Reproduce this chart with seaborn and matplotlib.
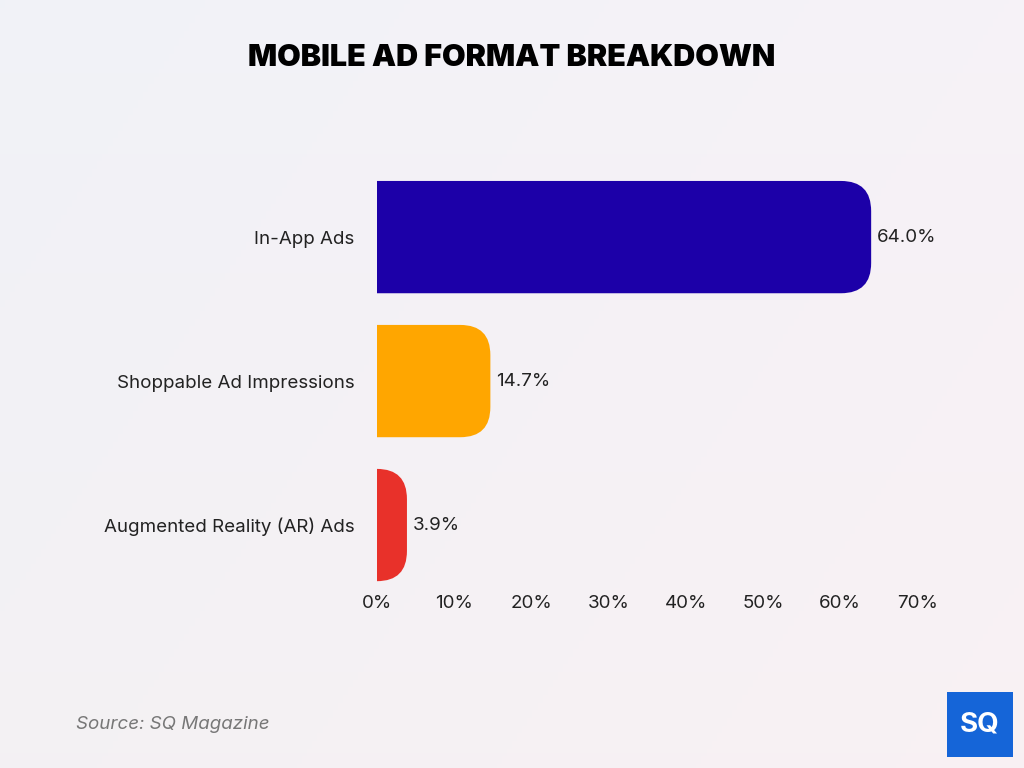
import matplotlib
matplotlib.use("Agg")
import matplotlib.pyplot as plt
import numpy as np
import pandas as pd
import seaborn as sns
from matplotlib.patches import FancyBboxPatch

# ------------------------------------------------
# Data
# ------------------------------------------------

categories = ["In-App Ads", "Shoppable Ad Impressions", "Augmented Reality (AR) Ads"]
values = [64.0, 14.7, 3.9]
colors = ["#1C00A8", "#FFA600", "#E8312A"]
tick_values = [0, 10, 20, 30, 40, 50, 60, 70]

df = pd.DataFrame({"category": categories, "value": values})

# ------------------------------------------------
# Figure
# ------------------------------------------------

plt.rcParams["font.family"] = "Inter"
fig = plt.figure(figsize=(10.24, 7.68), dpi=100)

# soft background gradient
bg = fig.add_axes([0, 0, 1, 1], zorder=-10)
gx, gy = np.meshgrid(np.linspace(0, 1, 200), np.linspace(0, 1, 200))
grad = np.dstack([
    0.955 + 0.02 * gx - 0.01 * gy,
    0.945 + 0.005 * gy,
    0.955 + 0.015 * gy,
])
bg.imshow(np.clip(grad, 0, 1), aspect="auto", extent=[0, 1, 0, 1], origin="lower")
bg.axis("off")

ax = fig.add_axes([0.368, 0.232, 0.528, 0.553])
ax.set_facecolor("none")

sns.barplot(data=df, x="value", y="category", hue="category", palette=colors,
            orient="h", width=0.78, saturation=1, legend=False, ax=ax)

ax.set_xlim(0, 70)
ax.set_ylim(2.45, -0.5)

# replace bars with right-rounded ones
rx, ry = 3.9, 0.21
for p in list(ax.patches):
    x0, y0 = p.get_x(), p.get_y()
    w, h = p.get_width(), p.get_height()
    c = p.get_facecolor()
    p.remove()
    box = FancyBboxPatch((x0 - 6, y0), w + 6, h,
                         boxstyle=f"round,pad=0,rounding_size={rx}",
                         mutation_aspect=ry / rx, facecolor=c, edgecolor="none",
                         clip_on=True)
    ax.add_patch(box)

for i, v in enumerate(values):
    ax.text(v + 0.8, i, f"{v:.1f}%", va="center", ha="left", fontsize=13.5, color="#222222")

ax.set_xticks(tick_values)
ax.set_xticklabels([f"{t}%" for t in tick_values], fontsize=13.5, color="#222222")
ax.tick_params(axis="y", labelsize=13.5, colors="#222222", length=0, pad=16)
ax.tick_params(axis="x", length=0, pad=4)
ax.set_xlabel("")
ax.set_ylabel("")
for s in ax.spines.values():
    s.set_visible(False)

fig.text(0.5, 0.925, "MOBILE AD FORMAT BREAKDOWN", ha="center", va="center",
         fontsize=22, fontweight="black", color="#000000")
fig.text(0.074, 0.057, "Source: SQ Magazine", ha="left", va="center",
         fontsize=13.5, style="italic", color="#777777")

# logo
logo = fig.add_axes([0.925, 0.014, 0.064, 0.085])
logo.set_facecolor("#1565D8")
logo.set_xticks([])
logo.set_yticks([])
for s in logo.spines.values():
    s.set_visible(False)
logo.text(0.5, 0.5, "SQ", ha="center", va="center", fontsize=20,
          fontweight="bold", color="white", transform=logo.transAxes)

fig.savefig("out.png", dpi=100)
